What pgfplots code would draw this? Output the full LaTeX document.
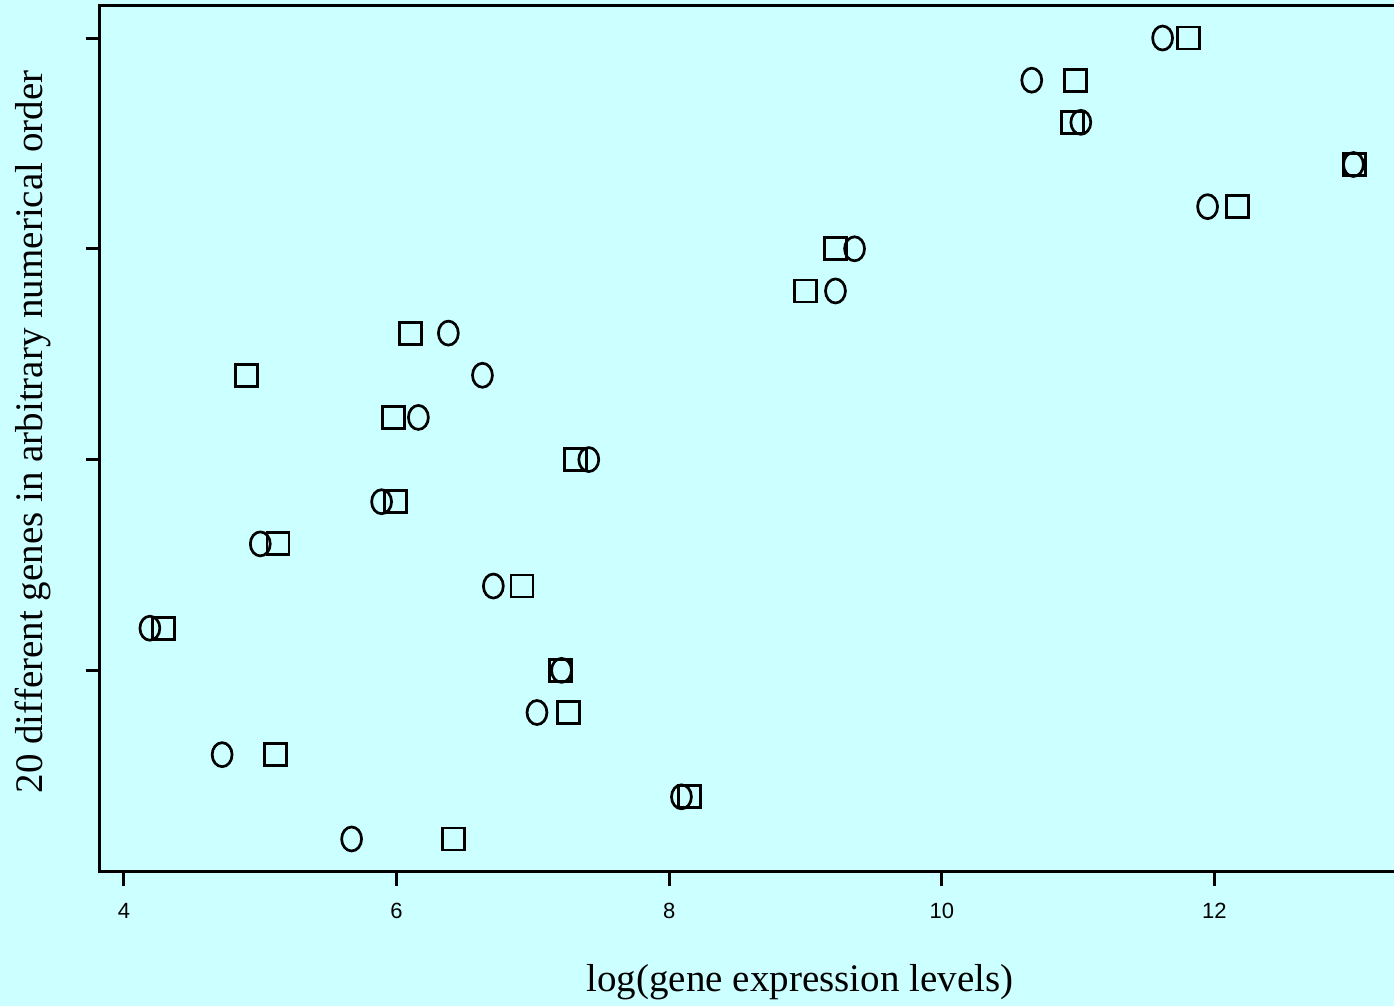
\documentclass[border=0pt]{standalone}
\usepackage{fontspec}
\setmainfont{Liberation Serif}
\newfontfamily\ticksans{Liberation Sans}
\usepackage{pgfplots}
\pgfplotsset{compat=1.18}
\definecolor{bgcyan}{RGB}{204,255,255}

\begin{document}
\begin{tikzpicture}
\fill[bgcyan] (0,0) rectangle (697pt,503pt);
\begin{axis}[
    at={(50pt,67pt)}, anchor=south west,
    scale only axis, width=655pt, height=433pt,
    xmin=3.824, xmax=13.435, ymin=0.217, ymax=20.76,
    xtick={4,6,8,10,12}, ytick={5,10,15,20}, yticklabels={},
    tick align=outside, major tick length=7pt,
    x tick style={line width=1.5pt, black}, y tick style={line width=1.5pt, black},
    axis line style={line width=1.5pt},
    xtick pos=bottom, ytick pos=left,
    ticklabel style={font=\ticksans\fontsize{11}{13}\selectfont},
    /pgf/number format/assume math mode=true,
    xticklabel style={yshift=-5pt},
    axis background/.style={fill=bgcyan},
]
% circles
\addplot[only marks, mark=o, line width=1.35pt, mark size=6pt, mark options={xscale=0.83}] coordinates {
(5.67,1) (8.09,2) (4.72,3) (7.03,4) (7.21,5) (4.19,6) (6.71,7) (5.00,8) (5.89,9) (7.41,10)
(6.16,11) (6.63,12) (6.38,13) (9.22,14) (9.36,15) (11.95,16) (13.02,17) (11.02,18) (10.66,19) (11.62,20)};
% squares
\addplot[only marks, mark=square, line width=1.45pt, mark size=5.5pt] coordinates {
(6.42,1) (8.15,2) (5.11,3) (7.26,4) (7.20,5) (4.29,6) (6.92,7) (5.13,8) (5.99,9) (7.31,10)
(5.98,11) (4.90,12) (6.10,13) (9.00,14) (9.22,15) (12.17,16) (13.03,17) (10.96,18) (10.98,19) (11.81,20)};
\end{axis}
\node[font=\fontsize{19.5}{22}\selectfont] at (400pt,12pt) {log(gene expression levels)};
\node[font=\fontsize{19.5}{22}\selectfont, rotate=90] at (16.5pt,287pt) {20 different genes in arbitrary numerical order};
\pgfresetboundingbox
\useasboundingbox (0,0) rectangle (697pt,503pt);
\end{tikzpicture}
\end{document}
